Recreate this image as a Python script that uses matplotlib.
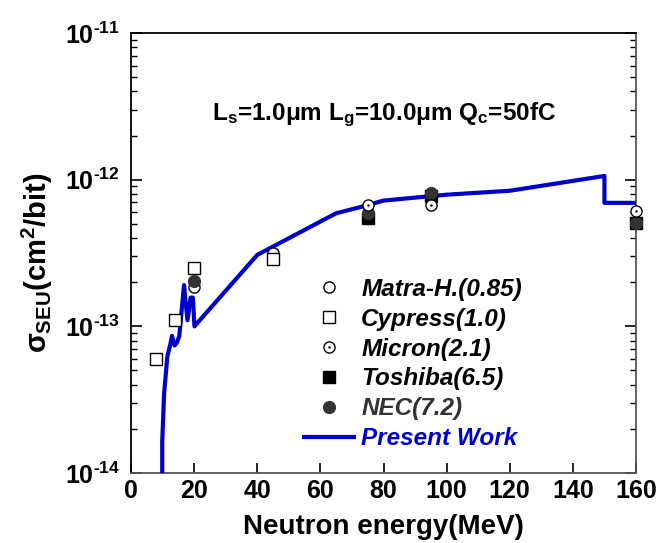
import matplotlib
matplotlib.use('Agg')
import matplotlib.pyplot as plt
from matplotlib.ticker import FixedLocator, FixedFormatter, LogLocator, NullFormatter
from matplotlib.legend_handler import HandlerTuple

plt.rcParams['font.family'] = ['Liberation Sans', 'DejaVu Sans']
plt.rcParams['font.weight'] = 'bold'
plt.rcParams['mathtext.fontset'] = 'custom'
plt.rcParams['mathtext.rm'] = 'Liberation Sans:bold'
plt.rcParams['mathtext.it'] = 'Liberation Sans:bold'
plt.rcParams['mathtext.bf'] = 'Liberation Sans:bold'

# measured SEU cross sections (cm^2/bit) vs neutron energy (MeV)
matra_e = [20, 45]
matra_s = [1.85e-13, 3.15e-13]

cypress_e = [8, 14, 20, 45]
cypress_s = [6.0e-14, 1.11e-13, 2.5e-13, 2.9e-13]

micron_e = [75, 95, 160]
micron_s = [6.7e-13, 6.75e-13, 6.15e-13]

toshiba_e = [75, 95, 160]
toshiba_s = [5.45e-13, 7.7e-13, 5.05e-13]

nec_e = [20, 75, 95, 160]
nec_s = [2.05e-13, 5.9e-13, 8.15e-13, 5.05e-13]

# simulated curve
model_e = [9.9, 9.9, 10.5, 11.5, 12.5, 13.0, 13.8, 14.5, 15.3, 16.8, 17.9,
           18.9, 19.6, 20.1, 40, 65, 75, 80, 100, 120, 150, 150, 160]
model_s = [5e-15, 1.65e-14, 3.5e-14, 6.2e-14, 7.6e-14, 8.6e-14, 7.4e-14, 7.7e-14,
           8.6e-14, 1.91e-13, 1.1e-13, 1.57e-13, 1.57e-13, 1.0e-13, 3.07e-13,
           5.9e-13, 6.7e-13, 7.2e-13, 7.9e-13, 8.4e-13, 1.06e-12, 6.95e-13, 6.95e-13]

x_ticks = [0, 20, 40, 60, 80, 100, 120, 140, 160]
y_ticks = [1e-14, 1e-13, 1e-12, 1e-11]
y_tick_labels = [r'$10^{\text{-14}}$', r'$10^{\text{-13}}$',
                 r'$10^{\text{-12}}$', r'$10^{\text{-11}}$']

blue = '#0000CC'
dark = '#333333'

fig = plt.figure(figsize=(6.58, 5.43), dpi=100)
ax = fig.add_axes([131 / 658, 1 - 473 / 543, 505 / 658, 440 / 543])

line, = ax.plot(model_e, model_s, color=blue, lw=3, zorder=3, label='Present Work')
mk = dict(linestyle='none', clip_on=False)
h_matra, = ax.plot(matra_e, matra_s, 'o', ms=8, mfc='white', mec='black', mew=1.0, zorder=4, **mk)
h_cyp, = ax.plot(cypress_e, cypress_s, 's', ms=9, mfc='white', mec='black', mew=1.0, zorder=4, **mk)
h_tosh, = ax.plot(toshiba_e, toshiba_s, 's', ms=9, mfc='black', mec='black', zorder=5, **mk)
h_nec, = ax.plot(nec_e, nec_s, 'o', ms=8.5, mfc=dark, mec=dark, zorder=6, **mk)
h_mic, = ax.plot(micron_e, micron_s, 'o', ms=8, mfc='white', mec='black', mew=1.0, zorder=7, **mk)
h_dot, = ax.plot(micron_e, micron_s, '.', ms=1.5, color='black', zorder=8, **mk)

ax.set_yscale('log')
ax.set_xlim(0, 160)
ax.set_ylim(1e-14, 1e-11)

ax.xaxis.set_major_locator(FixedLocator(x_ticks))
ax.yaxis.set_major_locator(FixedLocator(y_ticks))
ax.yaxis.set_major_formatter(FixedFormatter(y_tick_labels))
ax.yaxis.set_minor_locator(LogLocator(base=10, subs=range(2, 10)))
ax.yaxis.set_minor_formatter(NullFormatter())

ax.tick_params(axis='both', which='major', direction='in', width=1.2)
ax.tick_params(axis='x', which='major', length=7, pad=4, top=False, labelsize=18)
ax.tick_params(axis='y', which='major', length=8, pad=8, right=True, labelsize=18)
ax.tick_params(axis='y', which='minor', direction='in', length=4, width=1.0, right=True)

for side in ['left', 'top']:
    ax.spines[side].set_linewidth(1.3)
    ax.spines[side].set_color('black')
for side in ['right', 'bottom']:
    ax.spines[side].set_linewidth(1.3)
    ax.spines[side].set_color('#555555')

ax.set_xlabel('Neutron energy(MeV)', fontsize=20, fontweight='bold', labelpad=8.5)
ax.set_ylabel(r'$\sigma_{SEU}\rm(cm^2/bit)$', fontsize=21)
ax.yaxis.label.set_va('center')
ax.yaxis.set_label_coords(-0.185, (473 - 263) / 440)

ax.text((212 - 131) / 505, (473 - 115) / 440,
        r'$\rm L_s$=1.0μm $\rm L_g$=10.0μm $\rm Q_c$=50fC',
        transform=ax.transAxes, fontsize=17.5, fontweight='bold', ha='left', va='center')

handles = [h_matra, h_cyp, (h_mic, h_dot), h_tosh, h_nec, line]
labels = ['Matra-H.(0.85)', 'Cypress(1.0)', 'Micron(2.1)', 'Toshiba(6.5)',
          'NEC(7.2)', 'Present Work']
leg = ax.legend(handles, labels, loc='upper left',
                bbox_to_anchor=(304 / 658, 1 - 278 / 543), bbox_transform=fig.transFigure,
                frameon=False, borderpad=0, borderaxespad=0, handlelength=2.05,
                handletextpad=0.3, labelspacing=0.28,
                handler_map={tuple: HandlerTuple(ndivide=1, pad=0)},
                prop={'size': 17.5, 'style': 'italic', 'weight': 'bold'})
text_colors = ['black', 'black', 'black', 'black', dark, blue]
for t, c in zip(leg.get_texts(), text_colors):
    t.set_color(c)

fig.savefig('out.png', dpi=100)
